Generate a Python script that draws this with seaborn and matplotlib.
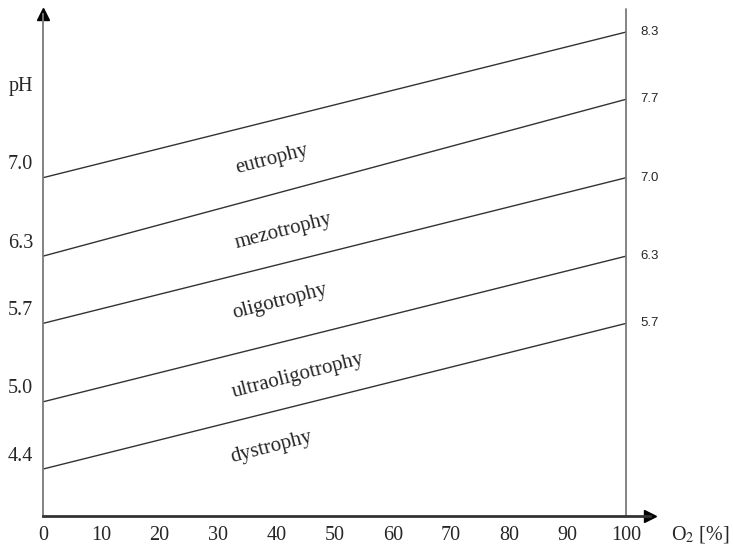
import matplotlib
matplotlib.use("Agg")
import matplotlib.pyplot as plt
import seaborn as sns
import pandas as pd
import numpy as np

# trophic zones and the pH boundary lines between them (left at O2 = 0 %, right at O2 = 100 %)
zones = ['eutrophy', 'mezotrophy', 'oligotrophy', 'ultraoligotrophy', 'dystrophy']
left_ph = [7.0, 6.3, 5.7, 5.0, 4.4]
right_ph = [8.3, 7.7, 7.0, 6.3, 5.7]
o2_ends = [0, 100]
x_ticks = [0, 10, 20, 30, 40, 50, 60, 70, 80, 90, 100]

rows = []
for i in range(len(left_ph)):
    rows.append({'line': i, 'O2': o2_ends[0], 'pH': left_ph[i]})
    rows.append({'line': i, 'O2': o2_ends[1], 'pH': right_ph[i]})
df = pd.DataFrame(rows)

sns.set_style('white')
plt.rcParams['font.family'] = ['Liberation Serif', 'DejaVu Serif']
plt.rcParams['mathtext.fontset'] = 'stix'

fig = plt.figure(figsize=(7.33, 5.49), dpi=100)
ax = fig.add_axes([43 / 733, 33 / 549, 607 / 733, 502 / 549])

sns.lineplot(data=df, x='O2', y='pH', hue='line', palette=['#333333'] * len(left_ph),
             legend=False, linewidth=1.0, ax=ax)

ax.set_xlim(0, 104.1)
ax.set_ylim(3.981, 8.461)

# axes look: gray y axis, dark x axis, both with arrow heads
for s in ['top', 'right']:
    ax.spines[s].set_visible(False)
ax.spines['left'].set_color('#7a7a7a')
ax.spines['left'].set_linewidth(1.3)
ax.spines['bottom'].set_color('#333333')
ax.spines['bottom'].set_linewidth(2.0)
ax.plot(1, 0, '>', color='black', markersize=8, transform=ax.transAxes, clip_on=False)
ax.plot(0, 1, '^', color='black', markersize=8, transform=ax.transAxes, clip_on=False)
ax.axvline(o2_ends[1], ymax=1.01, color='#7a7a7a', linewidth=1.3, clip_on=False)

ax.set_xticks(x_ticks)
ax.set_xticklabels([str(t) for t in x_ticks], fontsize=14.5)
ax.tick_params(axis='x', direction='in', length=6, width=1, color='#333333', pad=7)
ax.set_yticks([])
ax.set_xlabel('')
ax.set_ylabel('')

# pH values at both ends of each line
for v in left_ph:
    ax.annotate(f'{v:.1f}', xy=(o2_ends[0], v), xytext=(-10, 13), textcoords='offset pixels',
                ha='right', va='center', fontsize=14.5)
for v in right_ph:
    ax.annotate(f'{v:.1f}', xy=(o2_ends[1], v), xytext=(14, 0), textcoords='offset pixels',
                ha='left', va='center', fontsize=9.5, family='Liberation Sans')

# zone names written between the lines
label_x = [39.3, 41.2, 40.7, 43.7, 39.1]
label_y = [7.16, 6.52, 5.89, 5.23, 4.59]
for name, lx, ly in zip(zones, label_x, label_y):
    ax.text(lx, ly, name, ha='center', va='center', rotation=14.5,
            rotation_mode='anchor', fontsize=15)

ax.text(-10 / 607, (549 - 87 - 33) / 502, 'pH', transform=ax.transAxes,
        ha='right', va='center', fontsize=14.5)
ax.text(1.035, -0.037, r'O$_2$ [%]', transform=ax.transAxes,
        ha='left', va='center', fontsize=14.5)

plt.savefig('out.png', dpi=100)
